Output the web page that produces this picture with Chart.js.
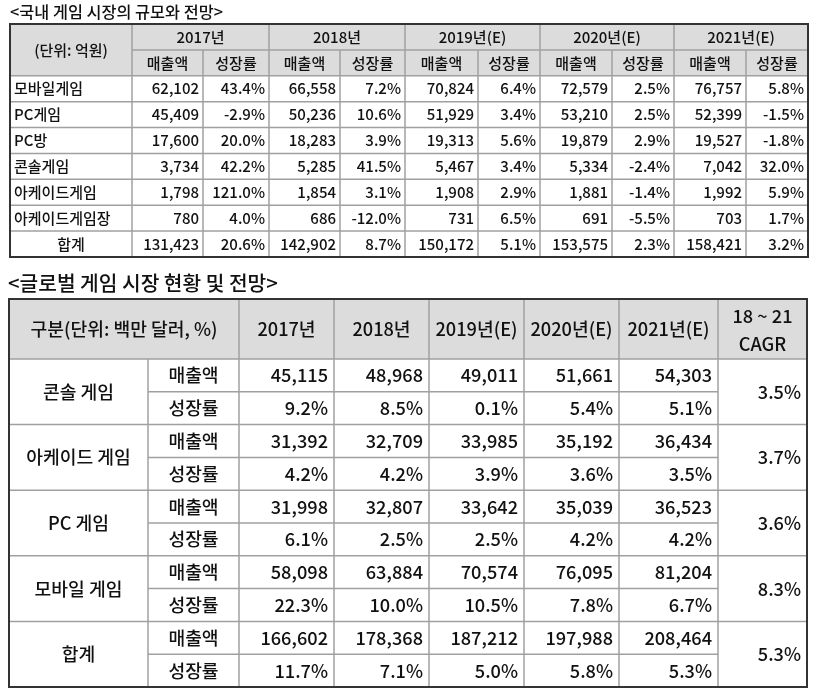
<!DOCTYPE html>
<html><head><meta charset="utf-8">
<script src="https://cdn.jsdelivr.net/npm/chart.js@4.4.0/dist/chart.umd.min.js"></script>
<style>
html,body{margin:0;padding:0;background:#fff;}
#wrap{position:relative;width:815px;height:700px;overflow:hidden;}
canvas{position:absolute;left:0;}
</style></head><body>
<div id="wrap">
<canvas id="c1" width="815" height="262" style="top:0"></canvas>
<canvas id="c2" width="815" height="438" style="top:262px"></canvas>
</div>
<script>
// ---------- Table 1 data: 국내 게임 시장 (억원) ----------
const domesticTitle = '<국내 게임 시장의 규모와 전망>';
const domesticUnit = '(단위: 억원)';
const domesticYears = ['2017년', '2018년', '2019년(E)', '2020년(E)', '2021년(E)'];
const domesticCategories = ['모바일게임', 'PC게임', 'PC방', '콘솔게임', '아케이드게임', '아케이드게임장', '합계'];
const domRevenue2017 = [62102, 45409, 17600, 3734, 1798, 780, 131423];
const domGrowth2017  = [43.4, -2.9, 20.0, 42.2, 121.0, 4.0, 20.6];
const domRevenue2018 = [66558, 50236, 18283, 5285, 1854, 686, 142902];
const domGrowth2018  = [7.2, 10.6, 3.9, 41.5, 3.1, -12.0, 8.7];
const domRevenue2019 = [70824, 51929, 19313, 5467, 1908, 731, 150172];
const domGrowth2019  = [6.4, 3.4, 5.6, 3.4, 2.9, 6.5, 5.1];
const domRevenue2020 = [72579, 53210, 19879, 5334, 1881, 691, 153575];
const domGrowth2020  = [2.5, 2.5, 2.9, -2.4, -1.4, -5.5, 2.3];
const domRevenue2021 = [76757, 52399, 19527, 7042, 1992, 703, 158421];
const domGrowth2021  = [5.8, -1.5, -1.8, 32.0, 5.9, 1.7, 3.2];

// ---------- Table 2 data: 글로벌 게임 시장 (백만 달러, %) ----------
const globalTitle = '<글로벌 게임 시장 현황 및 전망>';
const globalHeaderLabel = '구분(단위: 백만 달러, %)';
const globalYears = ['2017년', '2018년', '2019년(E)', '2020년(E)', '2021년(E)'];
const globalCagrLabel = ['18 ~ 21', 'CAGR'];
const globalCategories = ['콘솔 게임', '아케이드 게임', 'PC 게임', '모바일 게임', '합계'];
const globalMetrics = ['매출액', '성장률'];
const glbRevenue2017 = [45115, 31392, 31998, 58098, 166602];
const glbGrowth2017  = [9.2, 4.2, 6.1, 22.3, 11.7];
const glbRevenue2018 = [48968, 32709, 32807, 63884, 178368];
const glbGrowth2018  = [8.5, 4.2, 2.5, 10.0, 7.1];
const glbRevenue2019 = [49011, 33985, 33642, 70574, 187212];
const glbGrowth2019  = [0.1, 3.9, 2.5, 10.5, 5.0];
const glbRevenue2020 = [51661, 35192, 35039, 76095, 197988];
const glbGrowth2020  = [5.4, 3.6, 4.2, 7.8, 5.8];
const glbRevenue2021 = [54303, 36434, 36523, 81204, 208464];
const glbGrowth2021  = [5.1, 3.5, 4.2, 6.7, 5.3];
const glbCagr        = [3.5, 3.7, 3.6, 8.3, 5.3];

// ---------- layout / style (not data) ----------
const FONT = '"Noto Sans CJK KR", "Noto Sans", sans-serif';
const WEIGHT = '500';
const TEXT = '#111111';
const HEAD_BG = '#dcdcdc';
const GRID = '#a0a0a0';
const BORDER = '#333333';
const T1_WIDTHS = [122, 71, 66, 71, 65, 73, 62, 72, 62, 72, 62];
const T2_WIDTHS = [139, 91, 95, 95, 95, 95, 99, 89];
const T2_HEADER_ROWS = 1.83;

function cumulative(ws) { const e = [0]; ws.forEach(w => e.push(e[e.length - 1] + w)); return e; }
const T1_EDGES = cumulative(T1_WIDTHS);
const T2_EDGES = cumulative(T2_WIDTHS);
const fmtNum = v => v.toLocaleString('en-US');
const fmtPct = v => v.toFixed(1) + '%';

function seg(ctx, x1, y1, x2, y2) { ctx.beginPath(); ctx.moveTo(x1, y1); ctx.lineTo(x2, y2); ctx.stroke(); }
function txt(ctx, s, x, y, align, size) {
  ctx.font = WEIGHT + ' ' + size + 'px ' + FONT; ctx.fillStyle = TEXT;
  ctx.textAlign = align; ctx.textBaseline = 'middle'; ctx.fillText(s, x, y);
}

const domRevenue = [domRevenue2017, domRevenue2018, domRevenue2019, domRevenue2020, domRevenue2021];
const domGrowth = [domGrowth2017, domGrowth2018, domGrowth2019, domGrowth2020, domGrowth2021];
const glbRevenue = [glbRevenue2017, glbRevenue2018, glbRevenue2019, glbRevenue2020, glbRevenue2021];
const glbGrowth = [glbGrowth2017, glbGrowth2018, glbGrowth2019, glbGrowth2020, glbGrowth2021];

const table1Plugin = {
  id: 'table1',
  afterDraw(chart) {
    const ctx = chart.ctx, sx = chart.scales.x, sy = chart.scales.y;
    const X = i => sx.getPixelForValue(T1_EDGES[i]);
    const Y = v => sy.getPixelForValue(v);
    const nCols = T1_EDGES.length - 1, nRows = 2 + domesticCategories.length;
    const L = X(0), R = X(nCols), T = Y(0), B = Y(nRows);
    ctx.save();
    txt(ctx, domesticTitle, L, T - 12, 'left', 16.3);
    ctx.fillStyle = HEAD_BG; ctx.fillRect(L, T, R - L, Y(2) - T);
    ctx.strokeStyle = GRID; ctx.lineWidth = 1.5;
    seg(ctx, X(1), Y(1), R, Y(1));
    for (let r = 2; r < nRows; r++) seg(ctx, L, Y(r), R, Y(r));
    for (let c = 1; c < nCols; c++) seg(ctx, X(c), c % 2 === 1 ? T : Y(1), X(c), B);
    ctx.strokeStyle = BORDER; ctx.lineWidth = 2; ctx.strokeRect(L, T, R - L, B - T);
    const fs = 15;
    txt(ctx, domesticUnit, (X(0) + X(1)) / 2, Y(1), 'center', fs);
    domesticYears.forEach((yr, k) => {
      const c = 1 + 2 * k;
      txt(ctx, yr, (X(c) + X(c + 2)) / 2, Y(0.5), 'center', fs);
      txt(ctx, '매출액', (X(c) + X(c + 1)) / 2, Y(1.5), 'center', fs);
      txt(ctx, '성장률', (X(c + 1) + X(c + 2)) / 2, Y(1.5), 'center', fs);
    });
    domesticCategories.forEach((name, i) => {
      const yc = Y(2 + i + 0.5);
      if (i === domesticCategories.length - 1) txt(ctx, name, (X(0) + X(1)) / 2, yc, 'center', fs);
      else txt(ctx, name, X(0) + 4, yc, 'left', fs);
      domesticYears.forEach((yr, k) => {
        const c = 1 + 2 * k;
        txt(ctx, fmtNum(domRevenue[k][i]), X(c + 1) - 4, yc, 'right', fs);
        txt(ctx, fmtPct(domGrowth[k][i]), X(c + 2) - 4, yc, 'right', fs);
      });
    });
    ctx.restore();
  }
};

const table2Plugin = {
  id: 'table2',
  afterDraw(chart) {
    const ctx = chart.ctx, sx = chart.scales.x, sy = chart.scales.y;
    const X = i => sx.getPixelForValue(T2_EDGES[i]);
    const Y = v => sy.getPixelForValue(v);
    const nCols = T2_EDGES.length - 1, nRows = globalCategories.length * 2;
    const L = X(0), R = X(nCols), T = Y(-T2_HEADER_ROWS), B = Y(nRows);
    ctx.save();
    txt(ctx, globalTitle, L - 1, T - 16, 'left', 20.3);
    ctx.fillStyle = HEAD_BG; ctx.fillRect(L, T, R - L, Y(0) - T);
    ctx.strokeStyle = GRID; ctx.lineWidth = 1.5;
    seg(ctx, L, Y(0), R, Y(0));
    for (let r = 1; r < nRows; r++) {
      if (r % 2 === 0) seg(ctx, L, Y(r), R, Y(r));
      else seg(ctx, X(1), Y(r), X(nCols - 1), Y(r));
    }
    seg(ctx, X(1), Y(0), X(1), B);
    for (let c = 2; c < nCols; c++) seg(ctx, X(c), T, X(c), B);
    ctx.strokeStyle = BORDER; ctx.lineWidth = 2; ctx.strokeRect(L, T, R - L, B - T);
    const fs = 18.2;
    const hy = (T + Y(0)) / 2;
    txt(ctx, globalHeaderLabel, (X(0) + X(2)) / 2, hy, 'center', fs);
    globalYears.forEach((yr, k) => txt(ctx, yr, (X(2 + k) + X(3 + k)) / 2, hy, 'center', fs));
    const cx = (X(nCols - 1) + X(nCols)) / 2;
    txt(ctx, globalCagrLabel[0], cx, hy - 13, 'center', fs);
    txt(ctx, globalCagrLabel[1], cx, hy + 15, 'center', fs);
    globalCategories.forEach((name, i) => {
      const r0 = 2 * i;
      txt(ctx, name, (X(0) + X(1)) / 2, Y(r0 + 1), 'center', fs);
      txt(ctx, globalMetrics[0], (X(1) + X(2)) / 2, Y(r0 + 0.5), 'center', fs);
      txt(ctx, globalMetrics[1], (X(1) + X(2)) / 2, Y(r0 + 1.5), 'center', fs);
      globalYears.forEach((yr, k) => {
        txt(ctx, fmtNum(glbRevenue[k][i]), X(3 + k) - 6, Y(r0 + 0.5), 'right', fs);
        txt(ctx, fmtPct(glbGrowth[k][i]), X(3 + k) - 6, Y(r0 + 1.5), 'right', fs);
      });
      txt(ctx, fmtPct(glbCagr[i]), X(nCols) - 6, Y(r0 + 1), 'right', fs);
    });
    ctx.restore();
  }
};

function makeTable(id, padding, xMax, yMin, yMax, plugin) {
  return new Chart(document.getElementById(id), {
    type: 'scatter',
    data: { datasets: [] },
    options: {
      responsive: false, animation: false, devicePixelRatio: 1,
      layout: { padding },
      plugins: { legend: { display: false }, tooltip: { enabled: false }, title: { display: false } },
      scales: {
        x: { type: 'linear', min: 0, max: xMax, display: false },
        y: { type: 'linear', min: yMin, max: yMax, reverse: true, display: false }
      }
    },
    plugins: [plugin]
  });
}

makeTable('c1', { left: 10, right: 7, top: 24, bottom: 5 }, T1_EDGES[T1_EDGES.length - 1], 0, 2 + domesticCategories.length, table1Plugin);
makeTable('c2', { left: 9, right: 8, top: 37, bottom: 13 }, T2_EDGES[T2_EDGES.length - 1], -T2_HEADER_ROWS, globalCategories.length * 2, table2Plugin);
</script>
</body></html>
